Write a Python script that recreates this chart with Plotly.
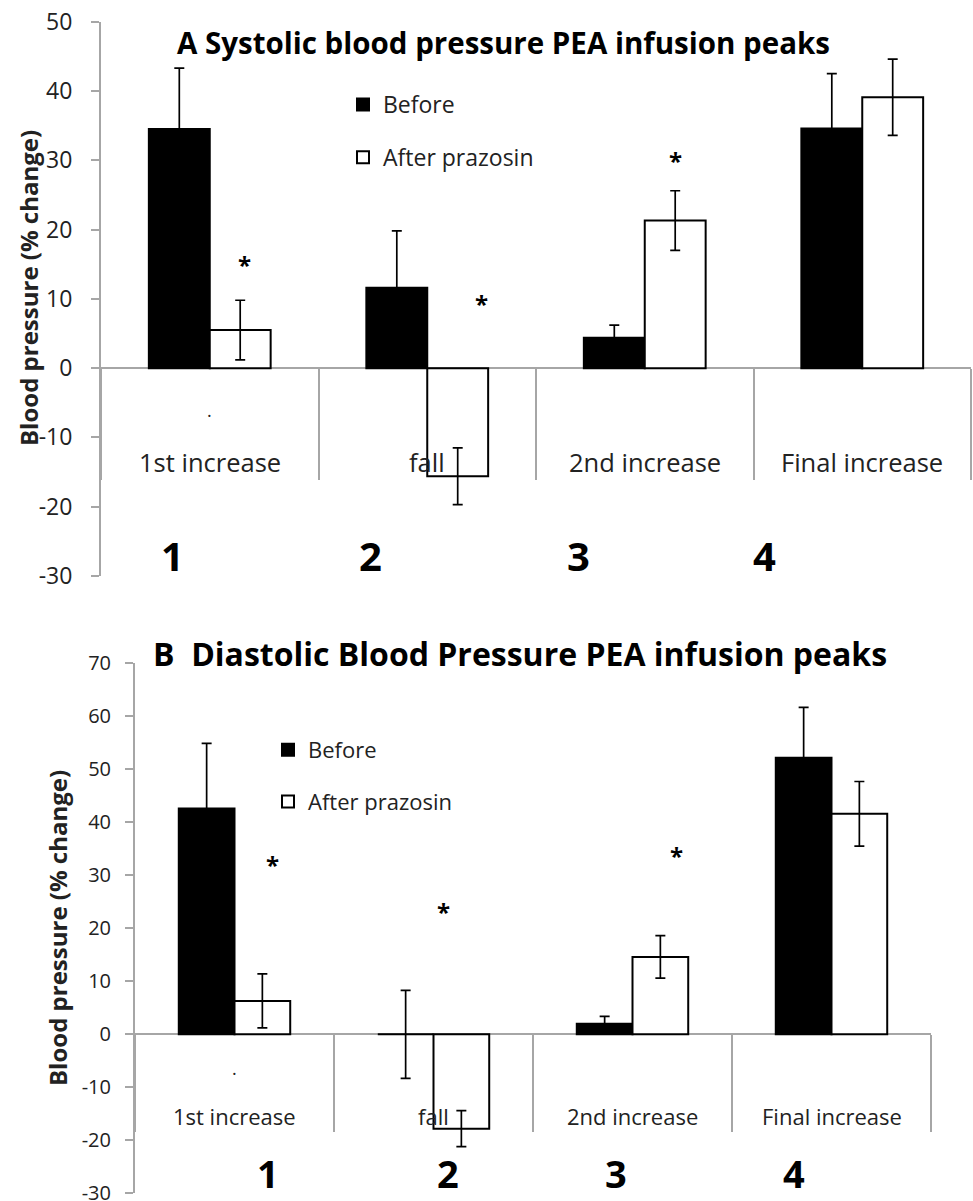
import plotly.graph_objects as go

# ---------------- data ----------------
categories = ["1st increase", "fall", "2nd increase", "Final increase"]

# Panel A: systolic blood pressure (% change)
sys_before = [34.5, 11.6, 4.4, 34.6]
sys_before_err = [8.8, 8.2, 1.8, 7.9]
sys_after = [5.5, -15.6, 21.3, 39.1]
sys_after_err = [4.3, 4.1, 4.3, 5.5]
sys_star_x = [0.16, 1.25, 2.14]
sys_star_y = [15.0, 9.4, 29.9]
A_tickvals = [-30, -20, -10, 0, 10, 20, 30, 40, 50]
A_ticktext = ["-30", "-20", "-10", "0", "10", "20", "30", "40", "50"]

# Panel B: diastolic blood pressure (% change)
dia_before = [42.6, 0.0, 2.0, 52.2]
dia_before_err = [12.3, 8.3, 1.4, 9.5]
dia_after = [6.3, -17.8, 14.6, 41.6]
dia_after_err = [5.1, 3.4, 4.0, 6.1]
dia_star_x = [0.19, 1.05, 2.22]
dia_star_y = [32.0, 23.1, 33.8]
B_tickvals = [-30, -20, -10, 0, 10, 20, 30, 40, 50, 60, 70]
B_ticktext = ["-30", "-20", "-10", "0", "10", "20", "30", "40", "50", "60", "70"]

series_names = ["Before", "After prazosin"]
peak_numbers = ["1", "2", "3", "4"]

# ---------------- layout constants ----------------
W, H = 973, 1201
FONT = "Open Sans"
GRAY = "#a6a6a6"
TXT = "#222222"

A_range = [-30, 50]
B_range = [-30, 70]
A_ydom = [(H - 576) / H, (H - 21.7) / H]
B_ydom = [(H - 1193.3) / H, (H - 663.3) / H]
A_xdom = [101 / W, 971 / W]
B_xdom = [135 / W, 931 / W]


def zero_pos(dom, rng):
    return dom[0] + (0 - rng[0]) / (rng[1] - rng[0]) * (dom[1] - dom[0])


fig = go.Figure()

def add_bars(before, berr, after, aerr, xa, ya, legend):
    fig.add_trace(go.Bar(
        x=categories, y=before, name=series_names[0],
        marker=dict(color="black", line=dict(color="black", width=2)),
        error_y=dict(type="data", array=berr, visible=True, color="black",
                     thickness=1.7, width=5),
        xaxis=xa, yaxis=ya, legend=legend, legendgroup=legend + "b",
    ))
    fig.add_trace(go.Bar(
        x=categories, y=after, name=series_names[1],
        marker=dict(color="white", line=dict(color="black", width=2)),
        error_y=dict(type="data", array=aerr, visible=True, color="black",
                     thickness=1.7, width=5),
        xaxis=xa, yaxis=ya, legend=legend, legendgroup=legend + "a",
    ))

add_bars(sys_before, sys_before_err, sys_after, sys_after_err, "x", "y", "legend")
add_bars(dia_before, dia_before_err, dia_after, dia_after_err, "x2", "y2", "legend2")

fig.update_layout(
    width=W, height=H,
    margin=dict(l=0, r=0, t=0, b=0, autoexpand=False),
    paper_bgcolor="white", plot_bgcolor="white",
    barmode="group", bargap=0.44, bargroupgap=0,
    font=dict(family=FONT, color=TXT),
    showlegend=True,
    legend=dict(x=343 / W, y=1 - 83 / H, xanchor="left", yanchor="top",
                font=dict(family=FONT, size=23, color=TXT),
                traceorder="grouped", tracegroupgap=20,
                bgcolor="rgba(0,0,0,0)"),
    legend2=dict(x=268 / W, y=1 - 729 / H, xanchor="left", yanchor="top",
                 font=dict(family=FONT, size=22, color=TXT),
                 traceorder="grouped", tracegroupgap=20,
                 bgcolor="rgba(0,0,0,0)"),
    xaxis=dict(domain=A_xdom, anchor="free", position=zero_pos(A_ydom, A_range),
               type="category", tickson="boundaries", ticks="outside",
               ticklen=111, tickwidth=2, tickcolor=GRAY, automargin=False,
               showticklabels=False, showline=False, showgrid=False),
    yaxis=dict(domain=A_ydom, range=A_range, anchor="x", automargin=False,
               tickmode="array", tickvals=A_tickvals, ticktext=A_ticktext,
               ticklabeloverflow="allow",
               showline=True, linecolor=GRAY, linewidth=2,
               ticks="outside", ticklen=8, tickwidth=2, tickcolor=GRAY,
               tickfont=dict(family=FONT, size=23, color=TXT),
               ticklabelstandoff=14,
               showgrid=False, zeroline=True, zerolinecolor=GRAY, zerolinewidth=2),
    xaxis2=dict(domain=B_xdom, anchor="free", position=zero_pos(B_ydom, B_range),
                type="category", tickson="boundaries", ticks="outside",
                ticklen=97, tickwidth=2, tickcolor=GRAY, automargin=False,
                showticklabels=False, showline=False, showgrid=False),
    yaxis2=dict(domain=B_ydom, range=B_range, anchor="x2", automargin=False,
                tickmode="array", tickvals=B_tickvals, ticktext=B_ticktext,
                ticklabeloverflow="allow",
                showline=True, linecolor=GRAY, linewidth=2,
                ticks="outside", ticklen=8, tickwidth=2, tickcolor=GRAY,
                tickfont=dict(family=FONT, size=20, color=TXT),
                ticklabelstandoff=10,
                showgrid=False, zeroline=True, zerolinecolor=GRAY, zerolinewidth=2),
)

C = dict(xanchor="center", yanchor="middle", showarrow=False)
ann = []
# panel titles
ann.append(dict(text="<b>A Systolic blood pressure PEA infusion peaks</b>",
                x=503 / W, y=1 - 42 / H, xref="paper", yref="paper",
                font=dict(family=FONT, size=29.5, color="black"), **C))
ann.append(dict(text="<b>B\u00a0 Diastolic Blood Pressure PEA infusion peaks</b>",
                x=520 / W, y=1 - 654 / H, xref="paper", yref="paper",
                font=dict(family=FONT, size=32, color="black"), **C))
# y axis titles
ann.append(dict(text="<b>Blood pressure (% change)</b>", textangle=-90,
                x=28 / W, y=1 - 288 / H, xref="paper", yref="paper",
                font=dict(family=FONT, size=24, color=TXT), **C))
ann.append(dict(text="<b>Blood pressure (% change)</b>", textangle=-90,
                x=57 / W, y=1 - 928 / H, xref="paper", yref="paper",
                font=dict(family=FONT, size=24, color=TXT), **C))
# category labels inside the plot below the zero line
for c in categories:
    ann.append(dict(text=c, x=c, y=-13.5, xref="x", yref="y",
                    font=dict(family=FONT, size=25.5, color=TXT), **C))
    ann.append(dict(text=c, x=c, y=-15.5, xref="x2", yref="y2",
                    font=dict(family=FONT, size=22, color=TXT), **C))
ann.append(dict(text=".", x=categories[0], y=-6.0, xref="x", yref="y",
                font=dict(family=FONT, size=18, color=TXT), **C))
ann.append(dict(text=".", x=categories[0], y=-6.4, xref="x2", yref="y2",
                font=dict(family=FONT, size=18, color=TXT), **C))
# significance asterisks
for sx, sy in zip(sys_star_x, sys_star_y):
    ann.append(dict(text="<b>*</b>", x=sx, y=sy, xref="x", yref="y",
                    font=dict(family=FONT, size=24, color="black"), **C))
for sx, sy in zip(dia_star_x, dia_star_y):
    ann.append(dict(text="<b>*</b>", x=sx, y=sy, xref="x2", yref="y2",
                    font=dict(family=FONT, size=24, color="black"), **C))
# peak numbers
A_num_x = [172.7, 370, 578.3, 764]
B_num_x = [268, 448, 616, 794.3]
for n, px in zip(peak_numbers, A_num_x):
    ann.append(dict(text="<b>" + n + "</b>", x=px / W, y=1 - 555 / H,
                    xref="paper", yref="paper",
                    font=dict(family=FONT, size=40, color="black"), **C))
for n, px in zip(peak_numbers, B_num_x):
    ann.append(dict(text="<b>" + n + "</b>", x=px / W, y=1 - 1173 / H,
                    xref="paper", yref="paper",
                    font=dict(family=FONT, size=38, color="black"), **C))

fig.update_layout(annotations=ann)
fig.write_html("out.html")
